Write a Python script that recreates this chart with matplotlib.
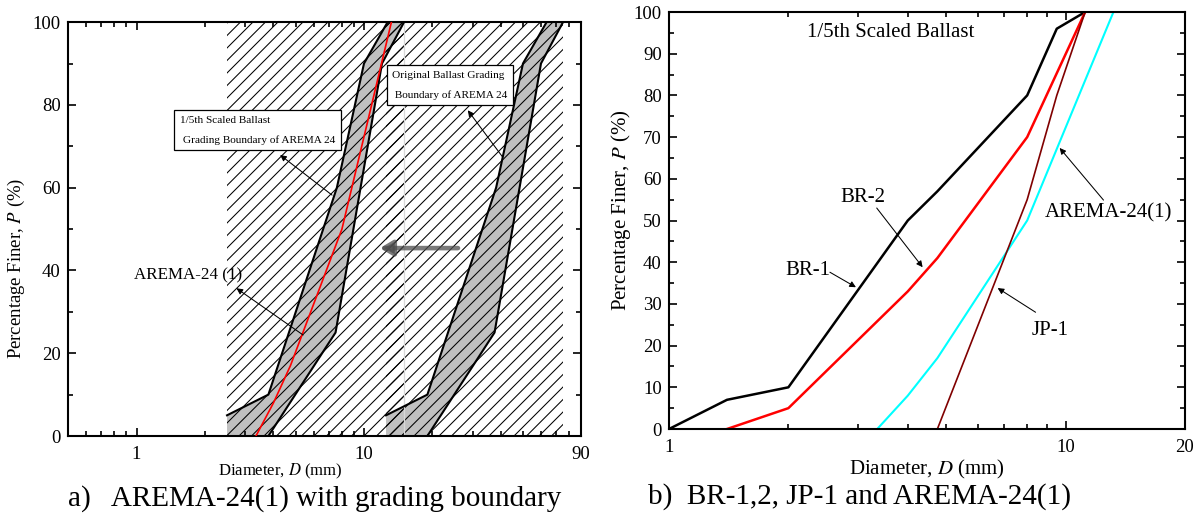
import matplotlib
matplotlib.use('Agg')
import matplotlib.pyplot as plt
from matplotlib.ticker import FixedLocator, MultipleLocator, NullFormatter

plt.rcParams['font.family'] = ['Liberation Serif', 'DejaVu Serif']
plt.rcParams['mathtext.fontset'] = 'stix'
plt.rcParams['hatch.linewidth'] = 0.5

# --- data -------------------------------------------------------------
# AREMA 24 grading band, original ballast (mm, % finer)
orig_upper_d = [12.5, 19, 38.1, 50, 63.5]
orig_upper_p = [5, 10, 60, 90, 100]
orig_lower_d = [19, 37.5, 60, 75]
orig_lower_p = [0, 25, 90, 100]

# 1/5th scaled band
scal_upper_d = [2.5, 3.8, 7.6, 10, 12.7]
scal_upper_p = [5, 10, 60, 90, 100]
scal_lower_d = [3.8, 7.5, 12, 15]
scal_lower_p = [0, 25, 90, 100]

# gradation curves
arema_d = [3.35, 4.0, 4.75, 8.0, 13.2]
arema_p = [0, 8, 17, 50, 100]
br1_d = [1.0, 1.4, 2.0, 4.0, 4.75, 8.0, 9.5, 11.2]
br1_p = [0, 7, 10, 50, 57, 80, 96, 100]
br2_d = [1.4, 2.0, 4.0, 4.75, 8.0, 11.2]
br2_p = [0, 5, 33, 41, 70, 100]
jp1_d = [4.75, 8.0, 9.5, 11.2]
jp1_p = [0, 55, 80, 100]

xticks_a = [1, 10, 90]
xticks_b = [1, 10, 20]


def band(ax, ud, up, ld, lp):
    xs = [ud[0]] + ud + ld[::-1]
    ys = [0] + up + lp[::-1]
    ax.fill(xs, ys, color='#c0c0c0', lw=0, zorder=1)
    ax.plot(ud, up, color='black', lw=1.0, zorder=3)
    ax.plot(ld, lp, color='black', lw=1.0, zorder=3)


def style(ax):
    for s in ax.spines.values():
        s.set_linewidth(1.0)
    ax.tick_params(which='both', direction='in', top=True, right=True,
                   labelsize=9, width=0.8)
    ax.tick_params(which='major', length=4)
    ax.tick_params(which='minor', length=2.5)


fig = plt.figure(figsize=(8, 518 / 150), dpi=150)

# ---------------- panel a ----------------
ax = fig.add_axes([0.0567, 0.1583, 0.4275, 0.799])
ax.set_xscale('log')
ax.set_xlim(0.5, 90)
ax.set_ylim(0, 100)

ax.axvspan(scal_upper_d[0], scal_lower_d[-1], facecolor='none',
           edgecolor='black', hatch='////', lw=0, zorder=2)
ax.axvspan(orig_upper_d[0], orig_lower_d[-1], facecolor='none',
           edgecolor='black', hatch='////', lw=0, zorder=2)
ax.axvline(scal_lower_d[-1], color='#d8d8d8', lw=0.6, zorder=2)

band(ax, scal_upper_d, scal_upper_p, scal_lower_d, scal_lower_p)
band(ax, orig_upper_d, orig_upper_p, orig_lower_d, orig_lower_p)
ax.plot(arema_d, arema_p, color='red', lw=0.8, zorder=4)

box = dict(boxstyle='square,pad=0.5', fc='white', ec='black', lw=0.6)
ax.text(1.55, 73.9, '1/5th Scaled Ballast\n Grading Boundary of AREMA 24',
        fontsize=5.4, ha='left', va='center', linespacing=2.3, bbox=box,
        zorder=6)
ax.text(13.3, 84.7, 'Original Ballast Grading\n Boundary of AREMA 24',
        fontsize=5.4, ha='left', va='center', linespacing=2.3, bbox=box,
        zorder=6)
ax.text(0.97, 38.9, 'AREMA-24 (1)', fontsize=8.2, ha='left', va='center',
        zorder=6)

arr = dict(arrowstyle='-|>', color='black', lw=0.5, mutation_scale=6,
           shrinkA=0, shrinkB=0)
ax.annotate('', xy=(4.28, 67.9), xytext=(7.24, 58.2), arrowprops=arr, zorder=6)
ax.annotate('', xy=(28.6, 78.7), xytext=(40.7, 67.4), arrowprops=arr, zorder=6)
ax.annotate('', xy=(2.75, 35.7), xytext=(5.4, 24.4), arrowprops=arr, zorder=6)
ax.annotate('', xy=(11.75, 45.4), xytext=(25.9, 45.4), zorder=6,
            arrowprops=dict(arrowstyle='-|>,head_length=0.5,head_width=0.3',
                            color='0.3', lw=2.2, alpha=0.75,
                            shrinkA=0, shrinkB=0, mutation_scale=10))

ax.xaxis.set_major_locator(FixedLocator(xticks_a))
ax.set_xticklabels([str(t) for t in xticks_a])
ax.xaxis.set_minor_locator(FixedLocator(
    [0.6, 0.7, 0.8, 0.9] + list(range(2, 10)) + list(range(20, 90, 10))))
ax.xaxis.set_minor_formatter(NullFormatter())
ax.yaxis.set_major_locator(MultipleLocator(20))
ax.yaxis.set_minor_locator(MultipleLocator(10))
style(ax)
ax.tick_params(axis='x', pad=5)
ax.set_xlabel('Diameter, $D$ (mm)', fontsize=8)
ax.xaxis.set_label_coords(0.413, -0.062)
ax.set_ylabel('Percentage Finer, $P$ (%)', fontsize=9)
ax.yaxis.set_label_coords(-0.08, 0.406)

# ---------------- panel b ----------------
bx = fig.add_axes([0.5575, 0.1718, 0.43, 0.805])
bx.set_xscale('log')
bx.set_xlim(1, 20)
bx.set_ylim(0, 100)

bx.plot(br1_d, br1_p, color='black', lw=1.2)
bx.plot(br2_d, br2_p, color='red', lw=1.2)
bx.plot(arema_d, arema_p, color='cyan', lw=1.0)
bx.plot(jp1_d, jp1_p, color='#800000', lw=0.8)

bx.text(2.23, 95.2, '1/5th Scaled Ballast', fontsize=10, ha='left',
        va='center')
bx.text(2.70, 55.6, 'BR-2', fontsize=10, ha='left', va='center')
bx.text(1.96, 38.1, 'BR-1', fontsize=10, ha='left', va='center')
bx.text(8.85, 51.8, 'AREMA-24(1)', fontsize=10, ha='left', va='center')
bx.text(8.21, 23.7, 'JP-1', fontsize=10, ha='left', va='center')

bx.annotate('', xy=(4.36, 38.8), xytext=(3.34, 53), arrowprops=arr)
bx.annotate('', xy=(2.96, 34), xytext=(2.545, 37.6), arrowprops=arr)
bx.annotate('', xy=(9.66, 67.4), xytext=(12.46, 54.9), arrowprops=arr)
bx.annotate('', xy=(6.74, 33.8), xytext=(8.4, 28), arrowprops=arr)

bx.xaxis.set_major_locator(FixedLocator(xticks_b))
bx.set_xticklabels([str(t) for t in xticks_b])
bx.xaxis.set_minor_locator(FixedLocator(list(range(2, 10))))
bx.xaxis.set_minor_formatter(NullFormatter())
bx.yaxis.set_major_locator(MultipleLocator(10))
bx.yaxis.set_minor_locator(MultipleLocator(5))
style(bx)
bx.tick_params(axis='x', pad=5)
bx.set_xlabel('Diameter, $D$ (mm)', fontsize=10)
bx.xaxis.set_label_coords(0.5, -0.07)
bx.set_ylabel('Percentage Finer, $P$ (%)', fontsize=10)
bx.yaxis.set_label_coords(-0.07, 0.525)

# captions
fig.text(315 / 1200, 1 - 499 / 518, 'a)   AREMA-24(1) with grading boundary',
         fontsize=14, ha='center', va='center')
fig.text(860 / 1200, 1 - 497 / 518, 'b)  BR-1,2, JP-1 and AREMA-24(1)',
         fontsize=14, ha='center', va='center')

fig.savefig('out.png', dpi=150)
